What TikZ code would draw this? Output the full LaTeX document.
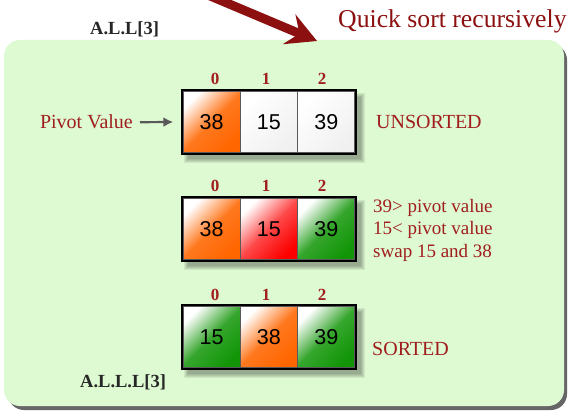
\documentclass[tikz,border=0pt]{standalone}
\usepackage{fontspec}
\setmainfont{Liberation Serif}
\newfontfamily\cellfont{Liberation Sans}
\usetikzlibrary{arrows.meta}
\definecolor{dred}{RGB}{140,16,16}
\definecolor{tred}{RGB}{160,30,30}
\definecolor{panelg}{RGB}{222,250,210}
\definecolor{corange}{RGB}{255,102,0}
\definecolor{cred}{RGB}{252,0,0}
\definecolor{cgreen}{RGB}{18,150,8}
\definecolor{cwhite}{RGB}{240,240,240}
\begin{document}
\begin{tikzpicture}[x=1pt,y=-1pt,
  cellbox/.style={draw=black!65, line width=1.4pt, minimum width=57.3pt, minimum height=62pt,
    inner sep=0pt, font=\cellfont\fontsize{21.5}{21.5}\selectfont},
  orangecell/.style={cellbox, top color=white, bottom color=corange, middle color=corange!88!white, shading angle=45},
  redcell/.style={cellbox, top color=white, bottom color=cred, middle color=cred!72!white, shading angle=45},
  greencell/.style={cellbox, top color=white, bottom color=cgreen, middle color=cgreen!85!white, shading angle=45},
  whitecell/.style={cellbox, top color=white, bottom color=cwhite, shading angle=45},
  idx/.style={font=\bfseries\fontsize{17}{17}\selectfont, text=tred, anchor=base, inner sep=0pt},
  lbl/.style={font=\fontsize{20}{20}\selectfont, text=tred, anchor=base west, inner sep=0pt},
  small/.style={font=\fontsize{19}{19}\selectfont, text=tred, anchor=base west, inner sep=0pt},
  blk/.style={font=\bfseries\fontsize{18.5}{18.5}\selectfont, text=black!85, anchor=base west, inner sep=0pt},
]
\useasboundingbox (0,0) rectangle (569,411);
\fill[white] (0,0) rectangle (569,411);
% panel
\fill[black!60, rounded corners=16pt] (8,44) rectangle (567,410);
\fill[panelg, rounded corners=16pt] (4,40) rectangle (564,406);
% big arrow
\coordinate (arrS) at (196,-10);
\coordinate (arrT) at (317,41);
\draw[dred, line width=9pt, -{Stealth[length=30pt,width=32pt,inset=11pt]}] (arrS) -- (arrT);
% title
\node[anchor=base west, inner sep=0pt, text=dred, font=\fontsize{25.7}{25.7}\selectfont] (title) at (338,28) {Quick sort recursively};
\node[blk] (all) at (90,35) {A.L.L[3]};
\node[blk] (alll) at (80,387) {A.L.L.L[3]};
% shadows of the rows
\foreach \yy in {122,229,337}{
  \foreach \k in {0,1,2,3,4}{
    \fill[black, opacity=0.07] ({188-\k},{\yy-25-\k}) rectangle ({361+\k},{\yy+37+\k});
  }
}
% row 1
\node[orangecell] (r1a) at (211.65,122) {38};
\node[whitecell]  (r1b) at (268.95,122) {15};
\node[whitecell]  (r1c) at (326.35,122) {39};
\draw[line width=2pt] (r1a.north west) rectangle (r1c.south east);
% row 2
\node[orangecell] (r2a) at (211.65,229) {38};
\node[redcell]    (r2b) at (268.95,229) {15};
\node[greencell]  (r2c) at (326.35,229) {39};
\draw[line width=2pt] (r2a.north west) rectangle (r2c.south east);
% row 3
\node[greencell]  (r3a) at (211.65,337) {15};
\node[orangecell] (r3b) at (268.95,337) {38};
\node[greencell]  (r3c) at (326.35,337) {39};
\draw[line width=2pt] (r3a.north west) rectangle (r3c.south east);
% indices
\foreach \r/\b in {1/85,2/192,3/300}{
  \node[idx] (i\r a) at (215,\b) {0};
  \node[idx] (i\r b) at (266,\b) {1};
  \node[idx] (i\r c) at (322,\b) {2};
}
% labels
\node[lbl, anchor=base east] (pivot) at (133,129) {Pivot Value};
\draw[black!65, line width=2.2pt, -{Latex[length=10pt,width=10pt]}] ([xshift=7pt]pivot.east) -- ([xshift=-9pt]r1a.west);
\node[lbl] (unsorted) at (376,129) {UNSORTED};
\node[small] (t1) at (373,213) {39> pivot value};
\node[small] (t2) at (373,235) {15< pivot value};
\node[small] (t3) at (373,257) {swap 15 and 38};
\node[lbl] (sorted) at (372,355) {SORTED};
\end{tikzpicture}
\end{document}
